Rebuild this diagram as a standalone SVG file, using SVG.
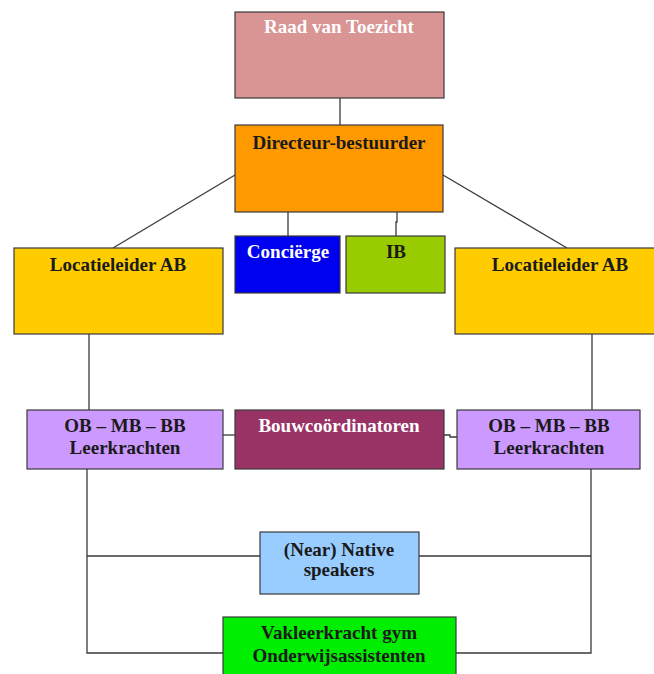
<svg xmlns="http://www.w3.org/2000/svg" width="654" height="674" viewBox="0 0 654 674">
<style>
.box{stroke:#3a3a3a;stroke-width:1.2}
.t{font-family:"Liberation Serif","Times New Roman",serif;font-weight:bold;font-size:19px;text-anchor:middle;fill:#1a1a1a}
.w{fill:#ffffff}
.c{fill:none;stroke:#3a3a3a;stroke-width:1.3}
</style>
<rect width="654" height="674" fill="#ffffff"/>
<g id="connectors">
<line class="c" x1="340" y1="98" x2="340" y2="125"/>
<line class="c" x1="235" y1="175" x2="113" y2="248"/>
<line class="c" x1="443" y1="175" x2="567" y2="248"/>
<line class="c" x1="288" y1="212" x2="288" y2="236"/>
<polyline class="c" points="397,212 397,222 396,222 396,236"/>
<line class="c" x1="89" y1="334" x2="89" y2="410"/>
<line class="c" x1="592" y1="334" x2="592" y2="410"/>
<line class="c" x1="223" y1="435" x2="235" y2="435"/>
<polyline class="c" points="444,435 450,435 450,437 457,437"/>
<polyline class="c" points="87,462 87,653 223,653"/>
<polyline class="c" points="591,462 591,653 456,653"/>
<line class="c" x1="87" y1="556" x2="260" y2="556"/>
<line class="c" x1="419" y1="556" x2="591" y2="556"/>
</g>
<g id="raad">
<rect class="box" x="235" y="12" width="209" height="86" fill="#d99594"/>
<text class="t w" x="339" y="33">Raad van Toezicht</text>
</g>
<g id="directeur">
<rect class="box" x="235" y="125" width="208" height="87" fill="#ff9900"/>
<text class="t" x="339" y="149">Directeur-bestuurder</text>
</g>
<g id="concierge">
<rect class="box" x="235" y="236" width="105" height="57" fill="#0000f0"/>
<text class="t w" x="288" y="258">Conciërge</text>
</g>
<g id="ib">
<rect class="box" x="346" y="236" width="99" height="57" fill="#99cc00"/>
<text class="t" x="396" y="258">IB</text>
</g>
<g id="locatieleider-links">
<rect class="box" x="14" y="248" width="209" height="86" fill="#ffcc00"/>
<text class="t" x="118" y="271">Locatieleider AB</text>
</g>
<g id="locatieleider-rechts">
<rect class="box" x="455" y="248" width="203" height="86" fill="#ffcc00"/>
<text class="t" x="560" y="271">Locatieleider AB</text>
</g>
<g id="leerkrachten-links">
<rect class="box" x="27" y="410" width="196" height="59" fill="#cc99ff"/>
<text class="t" x="125" y="432">OB – MB – BB</text>
<text class="t" x="125" y="454">Leerkrachten</text>
</g>
<g id="bouwcoordinatoren">
<rect class="box" x="235" y="410" width="209" height="59" fill="#993366"/>
<text class="t w" x="339" y="432">Bouwcoördinatoren</text>
</g>
<g id="leerkrachten-rechts">
<rect class="box" x="457" y="410" width="183" height="59" fill="#cc99ff"/>
<text class="t" x="549" y="432">OB – MB – BB</text>
<text class="t" x="549" y="454">Leerkrachten</text>
</g>
<g id="native-speakers">
<rect class="box" x="260" y="532" width="159" height="62" fill="#99ccff"/>
<text class="t" x="339" y="556">(Near) Native</text>
<text class="t" x="339" y="576">speakers</text>
</g>
<g id="vakleerkracht">
<rect class="box" x="223" y="617" width="233" height="60" fill="#00ee00"/>
<text class="t" x="339" y="639">Vakleerkracht gym</text>
<text class="t" x="339" y="662">Onderwijsassistenten</text>
</g>
</svg>
